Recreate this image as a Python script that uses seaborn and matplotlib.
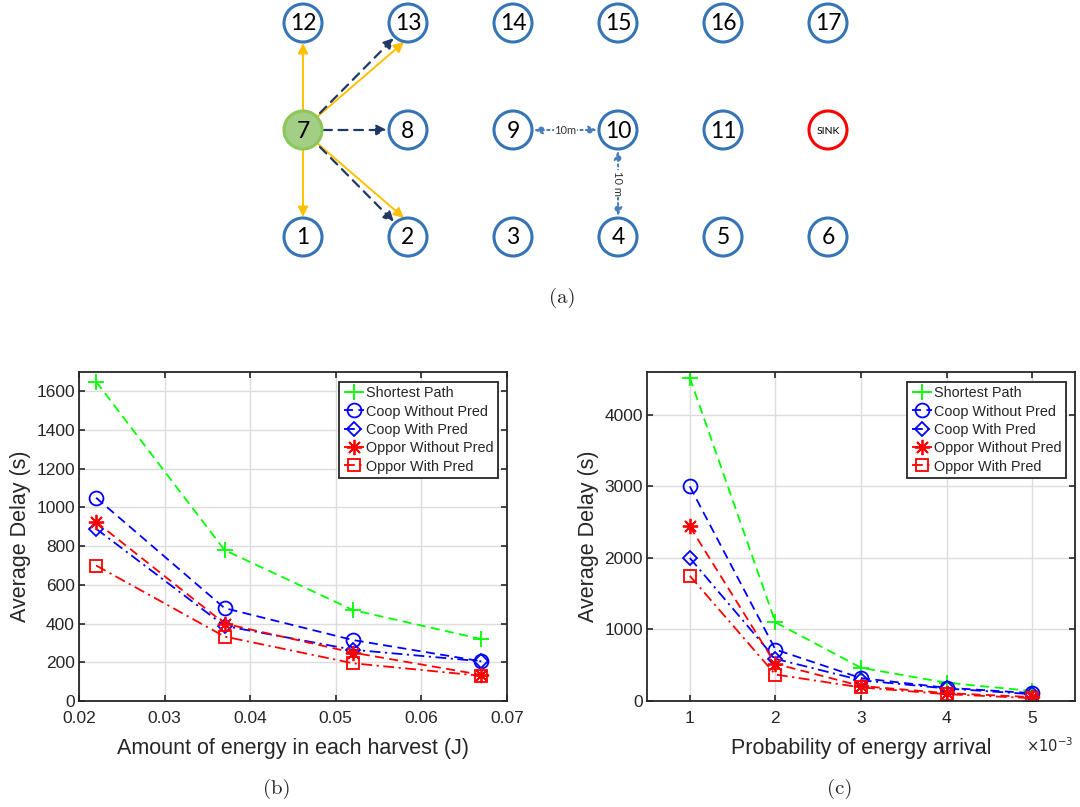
import matplotlib
matplotlib.use('Agg')
import matplotlib.pyplot as plt
from matplotlib.patches import Circle
from matplotlib.ticker import FuncFormatter
import seaborn as sns

# (b) delay vs energy per harvest
energy = [0.022, 0.037, 0.052, 0.067]
b_shortest = [1650, 780, 470, 320]
b_coop_wo = [1050, 480, 315, 205]
b_coop_w = [890, 388, 265, 205]
b_oppor_wo = [925, 400, 250, 135]
b_oppor_w = [700, 333, 195, 130]

# (c) delay vs probability of energy arrival
prob = [0.001, 0.002, 0.003, 0.004, 0.005]
c_shortest = [4520, 1100, 465, 255, 140]
c_coop_wo = [3000, 720, 320, 185, 110]
c_coop_w = [2000, 590, 290, 175, 95]
c_oppor_wo = [2440, 520, 210, 110, 55]
c_oppor_w = [1750, 370, 190, 95, 40]

series_names = ['Shortest Path', 'Coop Without Pred', 'Coop With Pred',
                'Oppor Without Pred', 'Oppor With Pred']

# (a) node grid
node_rows = [['12', '13', '14', '15', '16', '17'],
             ['7', '8', '9', '10', '11', 'SINK'],
             ['1', '2', '3', '4', '5', '6']]

sns.set_theme(style='white')
plt.rcParams['font.family'] = ['Liberation Sans', 'DejaVu Sans']

dash = (0, (5, 3))
dashdot = (0, (6, 2.5, 1.2, 2.5))
styles = [
    dict(color='#00FF00', linestyle=dash, marker='+', markersize=11),
    dict(color='#0000FF', linestyle=dash, marker='o', markersize=10),
    dict(color='#0000FF', linestyle=dashdot, marker='D', markersize=7),
    dict(color='#FF0000', linestyle=dash, marker=(8, 2, 0), markersize=11),
    dict(color='#FF0000', linestyle=dashdot, marker='s', markersize=8),
]

fig = plt.figure(figsize=(10.8, 8.07), dpi=100)
W, H = 1080, 807


def draw_panel(rect, x, ys, xlim, ylim, xticks, yticks, xlabel, legend_anchor):
    ax = fig.add_axes(rect)
    for y, name, st in zip(ys, series_names, styles):
        sns.lineplot(x=x, y=y, ax=ax, label=name, lw=1.3,
                     markerfacecolor='none', markeredgecolor=st['color'],
                     markeredgewidth=1.3, **st)
    ax.set_xlim(*xlim)
    ax.set_ylim(*ylim)
    ax.set_xticks(xticks)
    ax.set_yticks(yticks)
    ax.grid(True, color='#DCDCDC', lw=1.0)
    ax.set_axisbelow(True)
    for s in ax.spines.values():
        s.set_color('#262626')
        s.set_linewidth(1.3)
    ax.tick_params(direction='in', length=4, width=1.2, colors='#262626',
                   labelsize=12.5, top=True, right=True, bottom=True, left=True)
    ax.tick_params(axis='x', pad=7)
    ax.tick_params(axis='y', pad=3)
    ax.set_xlabel(xlabel, fontsize=15.5, color='#262626', labelpad=9)
    ax.set_ylabel('Average Delay (s)', fontsize=15.5, color='#262626', labelpad=4)
    leg = ax.legend(loc='upper right', bbox_to_anchor=legend_anchor, borderaxespad=0,
                    fontsize=10.4, frameon=True, fancybox=False, framealpha=1,
                    edgecolor='#262626', handlelength=1.4, handletextpad=0.15,
                    borderpad=0.3, labelspacing=0.3)
    leg.get_frame().set_linewidth(1.3)
    return ax


ax_b = draw_panel([79 / W, 1 - 701 / H, 428 / W, 329 / H], energy,
                  [b_shortest, b_coop_wo, b_coop_w, b_oppor_wo, b_oppor_w],
                  (0.02, 0.07), (0, 1700),
                  [0.02, 0.03, 0.04, 0.05, 0.06, 0.07], range(0, 1601, 200),
                  'Amount of energy in each harvest (J)', (0.979, 0.970))
ax_b.xaxis.set_major_formatter(FuncFormatter(lambda v, _: f'{v:.2f}'))

ax_c = draw_panel([647 / W, 1 - 701 / H, 428 / W, 329 / H], prob,
                  [c_shortest, c_coop_wo, c_coop_w, c_oppor_wo, c_oppor_w],
                  (0.0005, 0.0055), (0, 4600),
                  prob, range(0, 4001, 1000),
                  'Probability of energy arrival', (0.979, 0.970))
ax_c.xaxis.set_major_formatter(FuncFormatter(lambda v, _: f'{v * 1000:g}'))
ax_c.text(0.885, -0.135, r'$\times10^{-3}$', transform=ax_c.transAxes,
          fontsize=10.5, color='#262626', ha='left', va='center')

# ---- (a) network diagram, in pixel coordinates ----
ax_a = fig.add_axes([0, 1 - 320 / H, 1, 320 / H])
ax_a.set_xlim(0, W)
ax_a.set_ylim(320, 0)
ax_a.axis('off')

col_x = [303, 408, 513, 618, 723, 828]
row_y = [23, 130, 237]
r = 19
centers = {}
for ry, row in zip(row_y, node_rows):
    for cx, lab in zip(col_x, row):
        centers[lab] = (cx, ry)
        if lab == '7':
            fc, ec = '#A3CE86', '#8DC75A'
        elif lab == 'SINK':
            fc, ec = 'white', '#FF0000'
        else:
            fc, ec = 'white', '#3574B5'
        ax_a.add_patch(Circle((cx, ry), r, facecolor=fc, edgecolor=ec, lw=2.2, zorder=3))
        ax_a.text(cx, ry + 1, lab, ha='center', va='center', zorder=4,
                  fontsize=7.5 if lab == 'SINK' else 16.5, color='black',
                  family=['Lato', 'DejaVu Sans'])


def arrow(p0, p1, color, ls='-', lw=1.4, style='-|>,head_length=0.5,head_width=0.25'):
    ax_a.annotate('', xy=p1, xytext=p0, zorder=2,
                  arrowprops=dict(arrowstyle=style, color=color, lw=lw,
                                  linestyle=ls, shrinkA=0, shrinkB=0))


def off(lab, dx, dy):
    cx, cy = centers[lab]
    return (cx + dx, cy + dy)


yellow, navy, steel = '#FFC000', '#1F3864', '#4A7EBB'
arrow(off('7', 0, -19), off('12', 0, 20), yellow)
arrow(off('7', 0, 19), off('1', 0, -20), yellow)
arrow(off('7', 14, -13), off('13', -4, 19), yellow)
arrow(off('7', 14, 13), off('2', -4, -19), yellow)
arrow(off('7', 17, -17), off('13', -14, 15), navy, ls=(0, (4, 3)), lw=1.6)
arrow(off('7', 17, 17), off('2', -14, -15), navy, ls=(0, (4, 3)), lw=1.6)
arrow(off('7', 20, 0), off('8', -21, 0), navy, ls=(0, (4, 3)), lw=1.6)
arrow(off('9', 21, 0), off('10', -21, 0), steel, ls=':', lw=1.5,
      style='<|-|>,head_length=0.4,head_width=0.2')
arrow(off('10', 0, 21), off('4', 0, -21), steel, ls=':', lw=1.5,
      style='<|-|>,head_length=0.4,head_width=0.2')
mx = (centers['9'][0] + centers['10'][0]) / 2
ax_a.text(mx, centers['9'][1], '10m', ha='center', va='center', fontsize=8,
          color='#333333', zorder=5, family=['Lato', 'DejaVu Sans'],
          bbox=dict(facecolor='white', edgecolor='none', pad=0.5))
my = (centers['10'][1] + centers['4'][1]) / 2
ax_a.text(centers['10'][0], my, '10 m', ha='center', va='center', fontsize=8,
          rotation=-90, color='#333333', zorder=5, family=['Lato', 'DejaVu Sans'],
          bbox=dict(facecolor='white', edgecolor='none', pad=0.5))

# panel captions
fig.text(562 / W, 1 - 298 / H, '(a)', ha='center', va='center', fontsize=15, family='cmr10')
fig.text(277 / W, 1 - 789 / H, '(b)', ha='center', va='center', fontsize=15, family='cmr10')
fig.text(840 / W, 1 - 789 / H, '(c)', ha='center', va='center', fontsize=15, family='cmr10')

fig.savefig('out.png', dpi=100)
